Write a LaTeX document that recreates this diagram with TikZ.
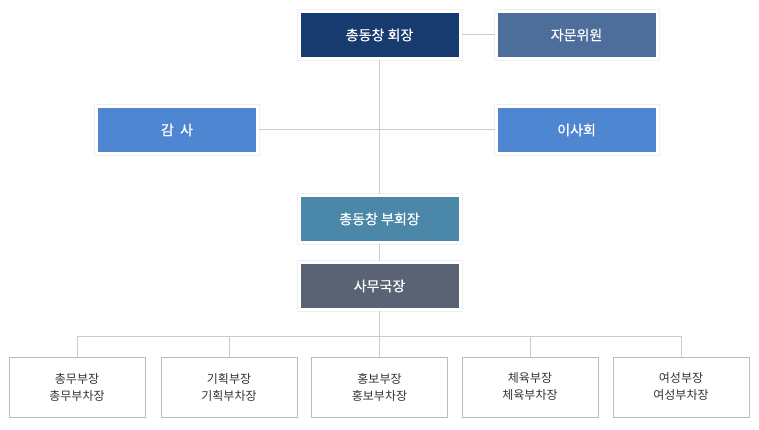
\documentclass[tikz,border=0pt]{standalone}
\usepackage{fontspec}
\setmainfont{Noto Sans CJK KR}
\newfontfamily\boxfont[FakeBold=0.5]{Noto Sans CJK KR}
\usepackage{tikz}

\definecolor{hoejangblue}{HTML}{173A6F}
\definecolor{jamunblue}{HTML}{4D6D9A}
\definecolor{gamsablue}{HTML}{4F86D1}
\definecolor{buhoeteal}{HTML}{4A87A8}
\definecolor{samugray}{HTML}{596373}
\definecolor{linegray}{HTML}{CCCCCC}
\definecolor{boxgray}{HTML}{BBBBBB}
\definecolor{textgray}{HTML}{333333}

\tikzset{
    colbox/.style={preaction={draw=black!6, line width=5pt}, draw=white, line width=3pt,
        minimum width=161pt, minimum height=47pt, inner sep=0pt, text=white,
        font=\boxfont\fontsize{14}{16}\selectfont},
    deptbox/.style={draw=boxgray, line width=1pt, fill=white, minimum width=136pt,
        minimum height=60pt, inner sep=0pt, align=center, text=textgray,
        font=\fontsize{12}{17}\selectfont},
    link/.style={draw=linegray, line width=1pt}
}

\begin{document}
\begin{tikzpicture}[x=1pt, y=-1pt]
        \useasboundingbox (0,0) rectangle (759,430);

        % upper part
        \node [colbox, fill=hoejangblue] (hoejang) at (379.5,35) {총동창 회장};
        \node [colbox, fill=jamunblue] (jamun) at (576.5,35) {자문위원};
        \node [colbox, fill=gamsablue] (gamsa) at (177,130) {감\hspace{0.45em}사};
        \node [colbox, fill=gamsablue] (isahoe) at (576.5,130) {이사회};
        \node [colbox, fill=buhoeteal] (buhoe) at (379.5,219) {총동창 부회장};
        \node [colbox, fill=samugray] (samu) at (379.5,286) {사무국장};

        % departments
        \node [deptbox] (chongmu) at (77,387) {총무부장\\총무부차장};
        \node [deptbox] (gihoek) at (229,387) {기획부장\\기획부차장};
        \node [deptbox] (hongbo) at (379.5,387) {홍보부장\\홍보부차장};
        \node [deptbox] (cheyuk) at (530,387) {체육부장\\체육부차장};
        \node [deptbox] (yeoseong) at (681,387) {여성부장\\여성부차장};
        \coordinate (bus) at (379.5,336);

        \draw [link] (hoejang) -- (jamun);
        \draw [link] (hoejang) -- (buhoe);
        \draw [link] (gamsa) -- (isahoe);
        \draw [link] (buhoe) -- (samu);
        \draw [link] (samu) -- (bus);
        \draw [link] (bus -| chongmu) -- (bus -| yeoseong);
        \draw [link] (bus -| chongmu) -- (chongmu);
        \draw [link] (bus -| gihoek) -- (gihoek);
        \draw [link] (bus) -- (hongbo);
        \draw [link] (bus -| cheyuk) -- (cheyuk);
        \draw [link] (bus -| yeoseong) -- (yeoseong);
    \end{tikzpicture}
\end{document}
